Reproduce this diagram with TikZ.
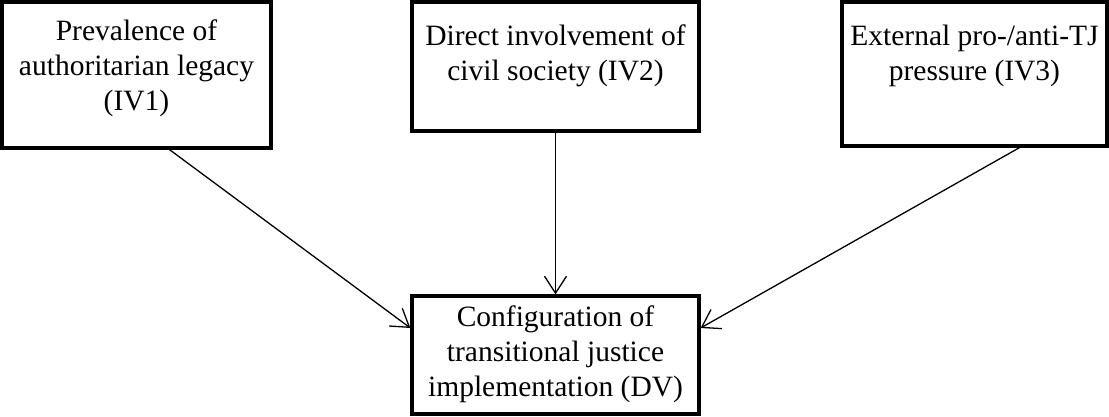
\documentclass[tikz,border=0pt]{standalone}
\usepackage{fontspec}
\setmainfont{Liberation Serif}
\usetikzlibrary{arrows.meta,fit}
\begin{document}
\begin{tikzpicture}[x=1pt,y=-1pt,
  box/.style={draw, line width=3.2pt, inner sep=0pt},
  lbl/.style={align=center, inner sep=0pt, anchor=base, font=\fontsize{29.5}{35}\selectfont},
  arr/.style={line width=1.3pt, -{Straight Barb[length=17pt,width=22pt,line width=1.3pt]}}]
\useasboundingbox (0,0) rectangle (1109,416);
\node[box, fit={(2,2) (271,148)}] (b1) {};
\node[box, fit={(412,2) (699,131)}] (b2) {};
\node[box, fit={(842,2) (1107,146)}] (b3) {};
\node[box, fit={(412,296) (699,414)}] (dv) {};
\node[lbl] (t1) at (b1.center |- 0,110) {Prevalence of\\authoritarian legacy\\(IV1)};
\node[lbl] (t2) at (b2.center |- 0,80) {Direct involvement of\\civil society (IV2)};
\node[lbl] (t3) at (b3.center |- 0,80) {External pro-/anti-TJ\\pressure (IV3)};
\node[lbl] (t4) at (dv.center |- 0,396) {Configuration of\\transitional justice\\implementation (DV)};
\draw[arr] ([xshift=33pt]b1.south) -- ([yshift=27pt]dv.west);
\draw[arr] (b2.south) -- (dv.north);
\draw[arr] ([xshift=45pt]b3.south) -- ([yshift=27pt]dv.east);
\end{tikzpicture}
\end{document}
